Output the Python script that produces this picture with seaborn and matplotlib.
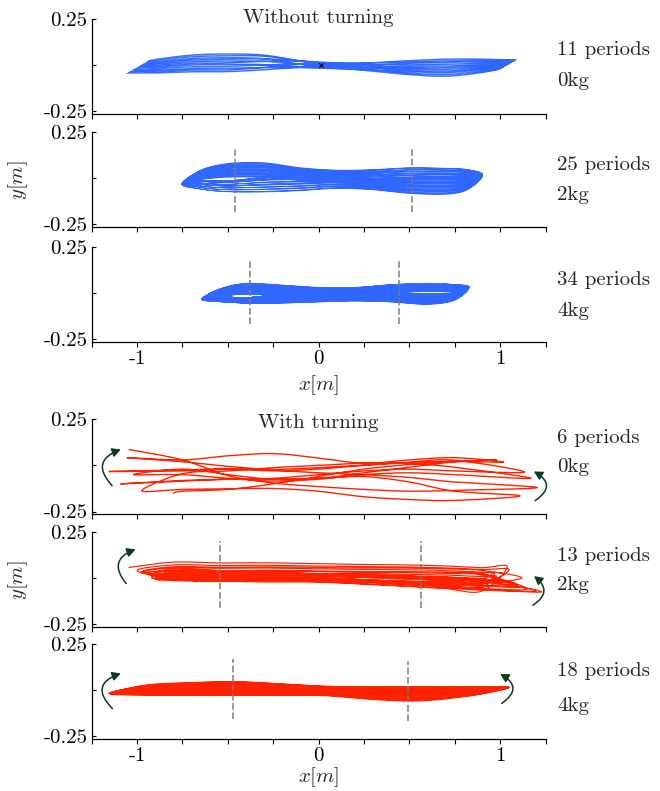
import numpy as np
import pandas as pd
import matplotlib
matplotlib.use("Agg")
import matplotlib.pyplot as plt
from matplotlib.patches import FancyArrowPatch
import seaborn as sns

# ---------------- data ----------------
x_ticks = [-1.25, -1.0, -0.75, -0.5, -0.25, 0.0, 0.25, 0.5, 0.75, 1.0, 1.25]
x_ticklabels = ["", "-1", "", "", "", "0", "", "", "", "1", ""]
y_ticks = [-0.25, 0.0, 0.25]
y_ticklabels = ["-0.25", "", "0.25"]

period_labels = ["11 periods", "25 periods", "34 periods", "6 periods", "13 periods", "18 periods"]
load_labels = ["0kg", "2kg", "4kg", "0kg", "2kg", "4kg"]
group_titles = ["Without turning", "With turning"]

# Panel 1 (no turning, 0kg): thin loops twisting through the centre
gx1 = [-0.9, -0.7, -0.5, -0.3, -0.1, 0.1, 0.3, 0.5, 0.7, 0.9]
top1 = [-0.040, -0.034, -0.033, -0.028, -0.024, -0.012, 0.010, 0.026, 0.034, 0.034]
bot1 = [-0.044, -0.038, -0.037, -0.032, -0.028, -0.016, 0.006, 0.022, 0.030, 0.030]
amp1 = [0.072, 0.09, 0.095, 0.08, 0.035, -0.01, -0.045, -0.075, -0.092, -0.072]
amp1_q = [0.0, 0.0, 0.0, 0.01, 0.03, 0.03, 0.01, 0.0, 0.0, 0.0]
tipL1, tipL1_p = (-1.06, -0.045), (0.12, 0.065)
tipR1, tipR1_p = (1.09, 0.028), (-0.09, -0.05)
p1 = [0.0, 0.1, 0.19, 0.3, 0.41, 0.5, 0.6, 0.7, 0.79, 0.9, 1.0]
q1 = [0.5, 0.9, 0.2, 0.7, 0.0, 1.0, 0.3, 0.8, 0.1, 0.6, 0.4]
start1_x, start1_y = [0.015], [0.0]

# Panel 2 (no turning, 2kg)
gx2 = [-0.65, -0.5, -0.3, -0.1, 0.1, 0.3, 0.5, 0.7, 0.82]
top2 = [0.042, 0.078, 0.082, 0.055, 0.042, 0.045, 0.055, 0.052, 0.045]
bot2 = [-0.062, -0.076, -0.077, -0.070, -0.058, -0.065, -0.085, -0.090, -0.065]
top2_p = [-0.05, -0.075, -0.08, -0.07, -0.06, -0.05, -0.03, -0.02, -0.02]
top2_q = [0.0, 0.0, 0.0, 0.0, -0.005, -0.015, -0.035, -0.035, -0.03]
bot2_p = [0.0, 0.0, 0.02, 0.04, 0.05, 0.06, 0.08, 0.085, 0.06]
bot2_q = [0.05, 0.06, 0.06, 0.04, 0.02, 0.0, 0.0, 0.0, 0.0]
tipL2, tipL2_q = (-0.755, -0.035), (0.03, 0.028)
tipR2, tipR2_q = (0.905, 0.015), (-0.03, -0.01)
p2 = [0.0, 0.04, 0.08, 0.12, 0.17, 0.21, 0.25, 0.29, 0.33, 0.37, 0.42, 0.46, 0.5,
      0.54, 0.58, 0.62, 0.67, 0.71, 0.75, 0.79, 0.83, 0.87, 0.92, 0.96, 1.0]
q2 = [0.0, 0.02, 0.04, 0.17, 0.19, 0.21, 0.33, 0.35, 0.37, 0.5, 0.52, 0.54, 0.56,
      0.66, 0.68, 0.7, 0.83, 0.85, 0.87, 0.89, 0.96, 0.97, 0.98, 0.99, 1.0]
dash2_x, dash2_lo, dash2_hi = [-0.46, 0.515], [-0.185, -0.185], [0.16, 0.16]

# Panel 3 (no turning, 4kg)
gx3 = [-0.55, -0.4, -0.2, 0.0, 0.2, 0.4, 0.6, 0.75]
top3 = [0.02, 0.052, 0.042, 0.03, 0.03, 0.045, 0.052, 0.045]
bot3 = [-0.048, -0.056, -0.056, -0.05, -0.045, -0.05, -0.063, -0.04]
top3_p = [-0.04, -0.06, -0.06, -0.055, -0.045, -0.03, -0.015, -0.01]
top3_q = [0.0, 0.0, 0.0, 0.0, 0.0, -0.015, -0.03, -0.03]
bot3_p = [0.0, 0.0, 0.02, 0.03, 0.04, 0.05, 0.06, 0.04]
bot3_q = [0.03, 0.03, 0.03, 0.02, 0.01, 0.0, 0.0, 0.0]
tipL3, tipL3_q = (-0.645, -0.035), (0.03, 0.015)
tipR3, tipR3_q = (0.83, 0.03), (-0.02, -0.01)
p3 = [0.0, 0.03, 0.06, 0.09, 0.12, 0.15, 0.18, 0.21, 0.24, 0.27, 0.3, 0.33, 0.36, 0.39,
      0.42, 0.45, 0.48, 0.52, 0.55, 0.58, 0.61, 0.64, 0.67, 0.7, 0.73, 0.76, 0.79, 0.82,
      0.85, 0.88, 0.91, 0.94, 0.97, 1.0]
q3 = [0.0, 0.01, 0.02, 0.03, 0.2, 0.21, 0.22, 0.23, 0.24, 0.4, 0.41, 0.42, 0.43, 0.44,
      0.6, 0.61, 0.62, 0.63, 0.64, 0.8, 0.81, 0.82, 0.83, 0.84, 0.95, 0.96, 0.97, 0.98,
      0.99, 1.0, 1.0, 1.0, 1.0, 1.0]
dash3_x, dash3_lo, dash3_hi = [-0.38, 0.443], [-0.168, -0.168], [0.178, 0.178]

# Panel 4 (turning, 0kg): 6 periods, passes given at fixed x positions
gx4 = [-0.75, -0.5, -0.25, 0.0, 0.25, 0.5, 0.75]
tipsL4_x = [-1.044, -1.056, -1.154, -1.09, -0.974, -1.02, -0.80]
tipsL4_y = [0.086, 0.042, -0.033, -0.10, -0.137, -0.05, -0.151]
tipsR4_x = [1.205, 1.02, 1.135, 1.11, 1.17, 0.98]
tipsR4_y = [-0.12, 0.018, -0.036, -0.165, -0.07, 0.03]
right4 = [[0.03, -0.055, -0.095, -0.115, -0.13, -0.14, -0.135],
          [0.03, 0.052, 0.064, 0.04, 0.012, 0.03, 0.042],
          [-0.025, -0.018, -0.022, -0.012, 0.002, 0.018, 0.028],
          [-0.085, -0.075, -0.075, -0.07, -0.06, -0.09, -0.14],
          [-0.045, -0.03, -0.012, 0.0, 0.012, 0.01, -0.01],
          [-0.02, -0.05, -0.075, -0.07, -0.04, -0.01, 0.02]]
left4 = [[0.02, -0.005, -0.025, -0.04, -0.05, -0.065, -0.09],
         [-0.03, -0.02, -0.03, -0.02, 0.0, 0.015, 0.022],
         [-0.082, -0.075, -0.07, -0.05, -0.03, -0.02, -0.03],
         [-0.13, -0.127, -0.125, -0.14, -0.17, -0.185, -0.19],
         [-0.05, -0.07, -0.085, -0.075, -0.05, -0.04, -0.05],
         [-0.14, -0.13, -0.10, -0.06, -0.02, 0.005, 0.02]]

# Panel 5 (turning, 2kg): 13 periods
gx5 = [-0.8, -0.55, -0.3, -0.05, 0.2, 0.45, 0.7, 0.9]
top5 = [0.03, 0.025, 0.025, 0.02, 0.015, 0.012, 0.005, -0.005]
bot5 = [0.005, -0.004, -0.008, -0.006, -0.012, -0.022, -0.032, -0.042]
shift5_top_l = [0.055, 0.01, -0.01, 0.03, 0.0, -0.02, 0.02, 0.04, -0.005, 0.012, -0.015, 0.025, 0.005]
shift5_top_r = [0.06, 0.02, -0.01, 0.045, 0.0, 0.03, -0.015, 0.05, 0.012, 0.025, 0.0, 0.035, -0.005]
shift5_bot_l = [0.0, -0.015, 0.01, -0.02, 0.005, 0.02, -0.01, 0.0, 0.015, -0.005, 0.01, -0.012, 0.02]
shift5_bot_r = [-0.03, 0.0, -0.02, 0.012, -0.01, 0.02, -0.025, 0.005, 0.015, -0.015, 0.0, 0.01, -0.005]
tipsL5_x = [-1.044, -0.96, -0.92, -0.97, -0.9, -0.86, -0.93, -1.0, -0.88, -0.9, -0.84, -0.98, -0.92, -0.67]
tipsL5_y = [0.056, 0.027, 0.01, 0.035, -0.005, 0.0, 0.015, 0.04, -0.012, 0.02, 0.005, 0.03, 0.0, -0.022]
tipsR5_x = [1.04, 1.1, 1.23, 1.12, 0.97, 1.0, 1.2, 1.05, 0.98, 1.15, 1.08, 1.02, 1.1]
tipsR5_y = [0.06, -0.05, -0.076, 0.0, 0.03, -0.02, -0.07, 0.045, 0.01, -0.06, -0.03, 0.02, -0.04]
dash5_x, dash5_lo, dash5_hi = [-0.545, 0.565], [-0.166, -0.166], [0.201, 0.201]

# Panel 6 (turning, 4kg): 18 periods, solid band
gx6 = [-0.95, -0.7, -0.45, -0.2, 0.05, 0.3, 0.55, 0.8, 0.95]
top6 = [0.027, 0.04, 0.045, 0.033, 0.02, 0.018, 0.018, 0.018, 0.016]
bot6 = [-0.027, -0.027, -0.027, -0.027, -0.03, -0.05, -0.058, -0.035, -0.01]
top6_p = [-0.05, -0.065, -0.07, -0.058, -0.048, -0.06, -0.07, -0.05, -0.025]
bot6_p = [0.05, 0.065, 0.07, 0.058, 0.048, 0.06, 0.07, 0.05, 0.025]
tipL6, tipL6_p = (-1.154, -0.018), (0.04, 0.005)
tipR6, tipR6_p = (1.05, 0.015), (-0.04, -0.008)
p6 = [0.0, 0.06, 0.12, 0.18, 0.24, 0.3, 0.35, 0.41, 0.47, 0.53, 0.59, 0.65, 0.7, 0.76,
      0.82, 0.88, 0.94, 1.0]
dash6_x, dash6_lo, dash6_hi = [-0.47, 0.49], [-0.159, -0.17], [0.167, 0.16]

# turning arrows (start, end, bend)
arrows4 = [((-1.138, -0.109), (-1.09, 0.086), -0.75), ((1.193, -0.191), (1.186, -0.033), 0.8)]
arrows5 = [((-1.06, -0.031), (-1.009, 0.154), -0.7), ((1.18, -0.149), (1.187, 0.009), 0.7)]
arrows6 = [((-1.136, -0.10), (-1.09, 0.09), -0.8), ((1.009, -0.072), (1.0, 0.087), 0.8)]

# ---------------- styling ----------------
sns.set_style("ticks")
plt.rcParams["font.family"] = ["cmr10", "DejaVu Serif"]
plt.rcParams["mathtext.fontset"] = "cm"
plt.rcParams["axes.unicode_minus"] = False
plt.rcParams["axes.formatter.use_mathtext"] = True

BLUE = "#3068ff"
RED = "#ff2200"
ARROW = "#0b3a1c"
DASH = "#7a7a7a"
FS = 15

W, H = 660, 791
fig = plt.figure(figsize=(W / 100, H / 100), dpi=100)


def catmull(points, n=10):
    P = np.asarray(points, dtype=float)
    P = np.vstack([P[0], P, P[-1]])
    out = []
    t = np.linspace(0, 1, n, endpoint=False)[:, None]
    for i in range(1, len(P) - 2):
        p0, p1_, p2_, p3_ = P[i - 1], P[i], P[i + 1], P[i + 2]
        seg = 0.5 * (2 * p1_ + (-p0 + p2_) * t + (2 * p0 - 5 * p1_ + 4 * p2_ - p3_) * t ** 2
                     + (-p0 + 3 * p1_ - 3 * p2_ + p3_) * t ** 3)
        out.append(seg)
    out.append(P[-2][None])
    return np.vstack(out)


def generic_path(gx, Lx, Ly, Rx, Ry, rpass, lpass):
    gx = np.asarray(gx, float)
    pts = []
    for k in range(len(rpass)):
        pts.append((Lx[k], Ly[k]))
        pts += list(zip(gx, np.asarray(rpass[k], float)))
        pts.append((Rx[k], Ry[k]))
        pts += list(zip(gx[::-1], np.asarray(lpass[k], float)[::-1]))
    pts.append((Lx[len(rpass)], Ly[len(rpass)]))
    return catmull(pts)


def nested_path(gx, top, bot, topP, botP, L0, dLp, R0, dRp, p,
                topQ=None, botQ=None, dLq=(0, 0), dRq=(0, 0), q=None):
    top, bot = np.asarray(top), np.asarray(bot)
    topP, botP = np.asarray(topP), np.asarray(botP)
    topQ = np.zeros_like(top) if topQ is None else np.asarray(topQ)
    botQ = np.zeros_like(bot) if botQ is None else np.asarray(botQ)
    q = [0.0] * len(p) if q is None else q
    Lx, Ly, Rx, Ry, rp, lp = [], [], [], [], [], []
    for pk, qk in zip(p, q):
        Lx.append(L0[0] + pk * dLp[0] + qk * dLq[0]); Ly.append(L0[1] + pk * dLp[1] + qk * dLq[1])
        Rx.append(R0[0] + pk * dRp[0] + qk * dRq[0]); Ry.append(R0[1] + pk * dRp[1] + qk * dRq[1])
        rp.append(top + pk * topP + qk * topQ)
        lp.append(bot + pk * botP + qk * botQ)
    Lx.append(Lx[-1]); Ly.append(Ly[-1])
    return generic_path(gx, Lx, Ly, Rx, Ry, rp, lp)


def shifted_path(gx, top, bot, a, b, c, d, Lx, Ly, Rx, Ry):
    g = np.asarray(gx, float)
    w = (g - g[0]) / (g[-1] - g[0])
    rp = [np.asarray(top) + ak * (1 - w) + bk * w for ak, bk in zip(a, b)]
    lp = [np.asarray(bot) + ck * (1 - w) + dk * w for ck, dk in zip(c, d)]
    return generic_path(gx, Lx, Ly, Rx, Ry, rp, lp)


paths = [
    nested_path(gx1, top1, bot1, amp1, amp1, tipL1, tipL1_p, tipR1, tipR1_p, p1,
                topQ=amp1_q, botQ=amp1_q, q=q1),
    nested_path(gx2, top2, bot2, top2_p, bot2_p, tipL2, (0, 0), tipR2, (0, 0), p2,
                topQ=top2_q, botQ=bot2_q, dLq=tipL2_q, dRq=tipR2_q, q=q2),
    nested_path(gx3, top3, bot3, top3_p, bot3_p, tipL3, (0, 0), tipR3, (0, 0), p3,
                topQ=top3_q, botQ=bot3_q, dLq=tipL3_q, dRq=tipR3_q, q=q3),
    generic_path(gx4, tipsL4_x, tipsL4_y, tipsR4_x, tipsR4_y, right4, left4),
    shifted_path(gx5, top5, bot5, shift5_top_l, shift5_top_r, shift5_bot_l, shift5_bot_r,
                 tipsL5_x, tipsL5_y, tipsR5_x, tipsR5_y),
    nested_path(gx6, top6, bot6, top6_p, bot6_p, tipL6, tipL6_p, tipR6, tipR6_p, p6),
]
colors = [BLUE, BLUE, BLUE, RED, RED, RED]
lws = [0.5, 0.45, 0.45, 1.0, 0.85, 1.0]
dashes = {1: (dash2_x, dash2_lo, dash2_hi), 2: (dash3_x, dash3_lo, dash3_hi),
          4: (dash5_x, dash5_lo, dash5_hi), 5: (dash6_x, dash6_lo, dash6_hi)}
arrows = {3: arrows4, 4: arrows5, 5: arrows6}

# layout (pixels from the top of the figure)
ax_left_px, ax_right_px, ax_h_px = 91.7, 545.5, 95.0
panel_top_px = [19.0, 131.7, 246.7, 419.3, 531.7, 644.0]
periods_y_px = [50, 165, 280, 438, 556, 671]
kg_y_px = [81, 195, 311, 467, 585, 706]
text_x_px = 557

axes = []
for i in range(6):
    rect = [ax_left_px / W, 1 - (panel_top_px[i] + ax_h_px) / H,
            (ax_right_px - ax_left_px) / W, ax_h_px / H]
    ax = fig.add_axes(rect)
    axes.append(ax)
    df = pd.DataFrame({"x": paths[i][:, 0], "y": paths[i][:, 1]})
    sns.lineplot(data=df, x="x", y="y", sort=False, estimator=None, ax=ax,
                 color=colors[i], lw=lws[i])
    if i in dashes:
        dx, lo, hi = dashes[i]
        ax.vlines(dx, lo, hi, colors=DASH, linestyles=(0, (4, 1.6)), lw=1.2, alpha=0.9, zorder=5)
    if i in arrows:
        for (a0, a1, rad) in arrows[i]:
            arr = FancyArrowPatch(a0, a1, connectionstyle=f"arc3,rad={rad}",
                                  arrowstyle="-|>,head_length=0.5,head_width=0.27",
                                  mutation_scale=10, color=ARROW, lw=1.1,
                                  shrinkA=0, shrinkB=0, clip_on=False, zorder=6)
            ax.add_patch(arr)
    if i == 0:
        sns.scatterplot(x=start1_x, y=start1_y, marker="x", color="k", s=10,
                        linewidth=0.8, ax=ax, zorder=6)
    ax.set_xlim(-1.25, 1.25)
    ax.set_ylim(-0.265, 0.25)
    ax.set_xticks(x_ticks)
    ax.set_yticks(y_ticks)
    ax.set_yticklabels(y_ticklabels, fontsize=FS)
    if i in (2, 5):
        ax.set_xticklabels(x_ticklabels, fontsize=FS)
    else:
        ax.set_xticklabels([""] * len(x_ticks))
    ax.set_xlabel("")
    ax.set_ylabel("")
    ax.tick_params(axis="x", direction="out", length=3.5, width=0.8, pad=2.5, colors="k")
    ax.tick_params(axis="y", direction="in", length=3, width=0.8, pad=3, colors="k")
    for s in ("top", "right"):
        ax.spines[s].set_visible(False)
    for s in ("left", "bottom"):
        ax.spines[s].set_linewidth(0.9)
        ax.spines[s].set_color("k")
    ax.set_facecolor("white")
    fig.text(text_x_px / W, 1 - periods_y_px[i] / H, period_labels[i], fontsize=FS,
             ha="left", va="center")
    fig.text(text_x_px / W, 1 - kg_y_px[i] / H, load_labels[i], fontsize=FS,
             ha="left", va="center")

cx = (ax_left_px + ax_right_px) / 2 / W
fig.text(cx, 1 - 18 / H, group_titles[0], fontsize=FS, ha="center", va="center")
fig.text(cx, 1 - 423 / H, group_titles[1], fontsize=FS, ha="center", va="center")
for yy in (385, 777):
    fig.text(cx, 1 - yy / H, r"$x[m]$", fontsize=FS, ha="center", va="center")
for yy in (180, 580):
    fig.text(18 / W, 1 - yy / H, r"$y[m]$", fontsize=FS, ha="center", va="center", rotation=90)

fig.savefig("out.png", dpi=100, facecolor="white")
